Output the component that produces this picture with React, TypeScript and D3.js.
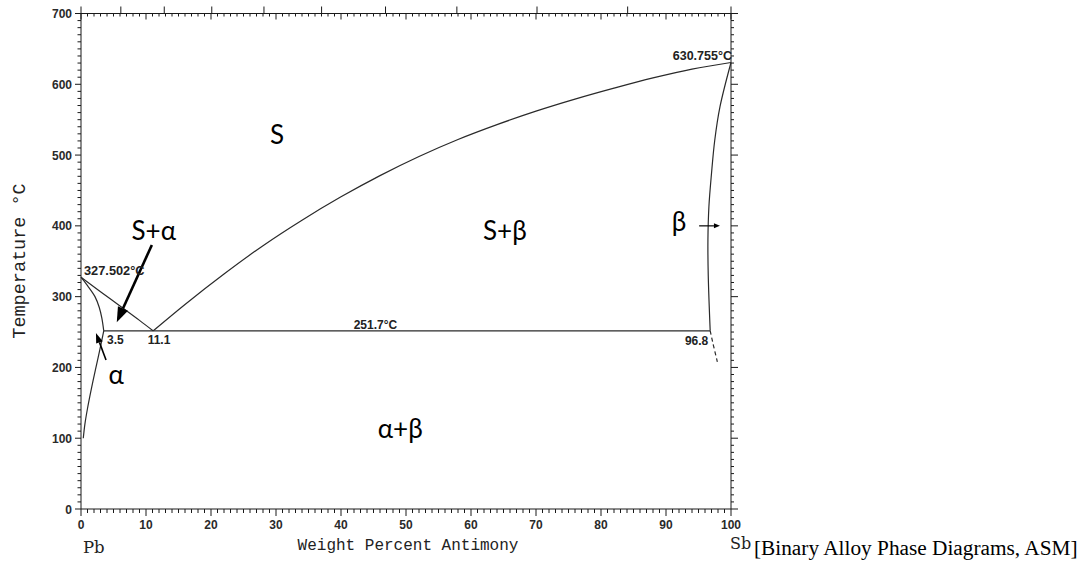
import React, { useEffect, useRef } from 'react'
import * as d3 from 'd3'

// liquidus, Pb side (wt% Sb, °C)
const liquidusLeft: [number, number][] = [[0, 327.502], [3, 307], [6, 286.8], [9, 266.5], [11.1, 251.7]]
// liquidus, Sb side
const liquidusRight: [number, number][] = [
  [11.1, 251.7], [16, 289], [22, 332], [28, 372], [34, 408], [40, 441], [46, 471], [52, 498],
  [58, 522], [64, 543], [70, 562], [76, 579], [82, 594.5], [88, 609], [94, 621.5], [100, 630.755],
]
const solidusAlpha: [number, number][] = [[0, 327.502], [1, 315.5], [2.15, 300], [2.8, 285], [3.2, 270], [3.5, 251.7]]
const solvusAlpha: [number, number][] = [[3.5, 251.7], [2.9, 225], [2.2, 196], [1.6, 170], [1.0, 142], [0.6, 120], [0.35, 100]]
const solidusBeta: [number, number][] = [[100, 630.755], [98.3, 568], [97.5, 521], [97.0, 474], [96.6, 427], [96.45, 380], [96.5, 330], [96.8, 251.7]]
const solvusBeta: [number, number][] = [[96.8, 251.7], [97.2, 235], [97.9, 208]]
const eutectic: [number, number][] = [[3.5, 251.7], [96.8, 251.7]]

const xTicks = [0, 10, 20, 30, 40, 50, 60, 70, 80, 90, 100]
const yTicks = [0, 100, 200, 300, 400, 500, 600, 700]
const atomicTicks = [0, 10, 20, 30, 40, 50, 60, 70, 80, 90, 100]

const regionLabels = [
  { text: 'S', x: 30.15, t: 515.5 },
  { text: 'S+α', x: 11.2, t: 380 },
  { text: 'S+β', x: 65.2, t: 380 },
  { text: 'β', x: 92, t: 392.6 },
  { text: 'α', x: 5.4, t: 176.5 },
  { text: 'α+β', x: 49.1, t: 100 },
]
const pointLabels = [
  { text: '327.502°C', x: 0.46, t: 330.5, anchor: 'start', size: 12.8 },
  { text: '630.755°C', x: 100.15, t: 634.2, anchor: 'end', size: 12.5 },
  { text: '251.7°C', x: 45.3, t: 254, anchor: 'middle', size: 12 },
  { text: '3.5', x: 4, t: 233, anchor: 'start', size: 12 },
  { text: '11.1', x: 10.26, t: 233, anchor: 'start', size: 12 },
  { text: '96.8', x: 96.5, t: 231.5, anchor: 'end', size: 12 },
]
const arrows = [
  { from: [10.9, 373], to: [5.5, 264], w: 2.6, head: 15, hw: 5.5 },
  { from: [3.85, 210.5], to: [2.3, 248.6], w: 1.6, head: 10, hw: 3.5 },
  { from: [95.1, 400], to: [98.3, 400], w: 1.2, head: 6, hw: 2.5 },
]

const M_SB = 121.76
const M_PB = 207.2
const atToWt = (a: number) => (100 * a * M_SB) / (a * M_SB + (100 - a) * M_PB)

export default function App() {
  const ref = useRef<SVGSVGElement>(null)

  useEffect(() => {
    const svg = d3.select(ref.current)
    svg.selectAll('*').remove()
    const x = d3.scaleLinear().domain([0, 100]).range([81, 731])
    const y = d3.scaleLinear().domain([0, 700]).range([509, 13.5])
    const ink = '#1a1a1a'
    const tickFont = '"Liberation Sans", Arial, sans-serif'
    const mono = '"Liberation Mono", "Courier New", monospace'

    const g = svg.append('g')

    // frame
    g.append('line').attr('x1', x(0)).attr('x2', x(100)).attr('y1', y(0)).attr('y2', y(0)).attr('stroke', ink)
    g.append('line').attr('x1', x(0)).attr('x2', x(100)).attr('y1', y(700)).attr('y2', y(700)).attr('stroke', ink)
    g.append('line').attr('x1', x(0)).attr('x2', x(0)).attr('y1', y(0)).attr('y2', y(700)).attr('stroke', ink)
    g.append('line').attr('x1', x(100)).attr('x2', x(100)).attr('y1', y(0)).attr('y2', y(700)).attr('stroke', ink)

    // bottom & top wt% ticks
    d3.range(0, 101, 1).forEach((v) => {
      const major = v % 10 === 0
      g.append('line').attr('x1', x(v)).attr('x2', x(v)).attr('y1', y(0)).attr('y2', y(0) + (major ? 7 : 4)).attr('stroke', ink)
      g.append('line').attr('x1', x(v)).attr('x2', x(v)).attr('y1', y(700)).attr('y2', y(700) + (major ? 6 : 3)).attr('stroke', ink)
    })
    // atomic percent ticks on top
    atomicTicks.forEach((a) => {
      g.append('line').attr('x1', x(atToWt(a))).attr('x2', x(atToWt(a))).attr('y1', y(700)).attr('y2', y(700) - 7).attr('stroke', ink)
    })
    // left & right ticks
    d3.range(0, 701, 10).forEach((v) => {
      const major = v % 100 === 0
      g.append('line').attr('x1', x(0)).attr('x2', x(0) - (major ? 6 : 3.5)).attr('y1', y(v)).attr('y2', y(v)).attr('stroke', ink)
      g.append('line').attr('x1', x(100)).attr('x2', x(100) + (major ? 7 : 3)).attr('y1', y(v)).attr('y2', y(v)).attr('stroke', ink)
    })

    g.selectAll('.xt').data(xTicks).enter().append('text')
      .attr('x', (d) => x(d)).attr('y', y(0) + 20)
      .attr('text-anchor', 'middle').attr('font-family', tickFont).attr('font-size', 12).attr('font-weight', 'bold')
      .attr('fill', '#2a2a2a').text((d) => d)
    g.selectAll('.yt').data(yTicks).enter().append('text')
      .attr('x', x(0) - 9).attr('y', (d) => y(d) + 4.5)
      .attr('text-anchor', 'end').attr('font-family', tickFont).attr('font-size', 12).attr('font-weight', 'bold')
      .attr('fill', '#2a2a2a').text((d) => d)

    // phase boundaries
    const smooth = d3.line<[number, number]>().x((d) => x(d[0])).y((d) => y(d[1])).curve(d3.curveCatmullRom)
    const mono_x = d3.line<[number, number]>().x((d) => x(d[0])).y((d) => y(d[1])).curve(d3.curveMonotoneX)
    const stroke = (p: any) => p.attr('fill', 'none').attr('stroke', '#2a2a2a').attr('stroke-width', 1.2)
    g.append('path').attr('d', mono_x(liquidusRight)).call(stroke)
    g.append('path').attr('d', mono_x(liquidusLeft)).call(stroke)
    ;[solidusAlpha, solvusAlpha, solidusBeta, eutectic].forEach((c) => {
      g.append('path').attr('d', smooth(c)).call(stroke)
    })
    g.append('path').attr('d', smooth(solvusBeta)).call(stroke).attr('stroke-dasharray', '4,3')

    // arrows
    arrows.forEach((a) => {
      const x1 = x(a.from[0]), y1 = y(a.from[1]), x2 = x(a.to[0]), y2 = y(a.to[1])
      const ang = Math.atan2(y2 - y1, x2 - x1)
      const bx = x2 - a.head * Math.cos(ang), by = y2 - a.head * Math.sin(ang)
      g.append('line').attr('x1', x1).attr('y1', y1).attr('x2', bx).attr('y2', by).attr('stroke', '#000').attr('stroke-width', a.w)
      const px = -Math.sin(ang) * a.hw, py = Math.cos(ang) * a.hw
      g.append('path').attr('d', `M${x2},${y2}L${bx + px},${by + py}L${bx - px},${by - py}Z`).attr('fill', '#000')
    })

    // point labels
    pointLabels.forEach((p) => {
      g.append('text').attr('x', x(p.x)).attr('y', y(p.t)).attr('text-anchor', p.anchor)
        .attr('font-family', tickFont).attr('font-size', p.size).attr('font-weight', 'bold').attr('fill', '#222').text(p.text)
    })
    // region labels
    regionLabels.forEach((r) => {
      g.append('text').attr('x', x(r.x)).attr('y', y(r.t)).attr('text-anchor', 'middle')
        .attr('font-family', 'Lato, "Open Sans", sans-serif').attr('font-size', 26).attr('fill', '#000').text(r.text)
    })

    // axis titles
    g.append('text').attr('x', 408).attr('y', 550).attr('text-anchor', 'middle')
      .attr('font-family', mono).attr('font-size', 16).attr('fill', '#222')
      .text('Weight Percent Antimony')
    g.append('text').attr('transform', 'translate(25,261) rotate(-90)').attr('text-anchor', 'middle')
      .attr('font-family', mono).attr('font-size', 18.5).attr('fill', '#222')
      .text('Temperature °C')
    g.append('text').attr('x', 83).attr('y', 553).attr('font-family', '"DejaVu Serif", serif').attr('font-size', 16.5).attr('fill', '#222').text('Pb')
    g.append('text').attr('x', 730).attr('y', 549).attr('font-family', '"DejaVu Serif", serif').attr('font-size', 16).attr('fill', '#222').text('Sb')
    g.append('text').attr('x', 754).attr('y', 555).attr('font-family', '"Liberation Serif", "Times New Roman", serif')
      .attr('font-size', 21.3).attr('fill', '#000').text('[Binary Alloy Phase Diagrams, ASM]')
  }, [])

  return (
    <svg ref={ref} width={1090} height={568} style={{ position: 'absolute', left: 0, top: 0, background: '#fff' }} />
  )
}
